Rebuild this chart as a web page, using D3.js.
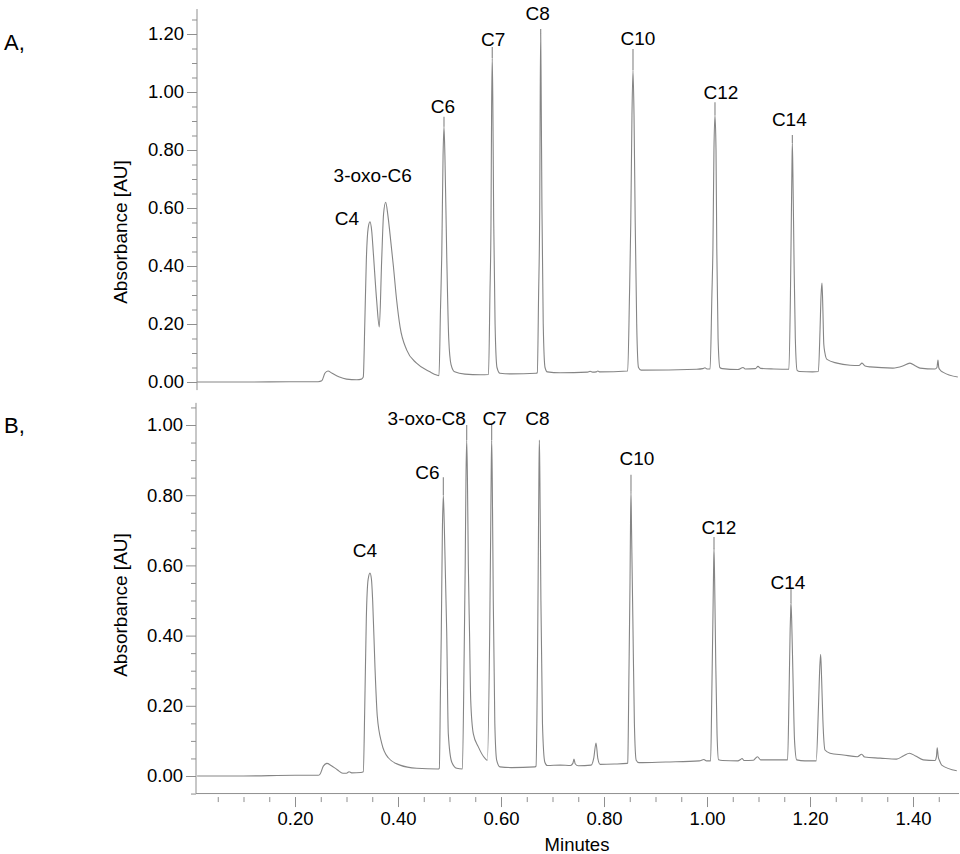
<!DOCTYPE html>
<html><head><meta charset="utf-8">
<script src="https://cdn.jsdelivr.net/npm/d3@7"></script>
<style>
body{margin:0;background:#fff}
svg{display:block}
text{font-family:"Liberation Sans", Arial, Helvetica, sans-serif; fill:#000}
</style>
</head><body>
<svg id="c" width="960" height="854"></svg>
<script>
// ---------------- DATA ----------------
const panelLetters = ["A,", "B,"];
const yTickLabelsA = [0.00, 0.20, 0.40, 0.60, 0.80, 1.00, 1.20];
const yTickLabelsB = [0.00, 0.20, 0.40, 0.60, 0.80, 1.00];
const xTickLabels = [0.20, 0.40, 0.60, 0.80, 1.00, 1.20, 1.40];

const peakNamesA = ["C4", "3-oxo-C6", "C6", "C7", "C8", "C10", "C12", "C14"];
const peakTimesA = [0.3456, 0.3761, 0.4893, 0.5830, 0.6771, 0.8563, 1.0155, 1.1657];
const peakHeightsA = [0.552, 0.620, 0.880, 1.117, 1.200, 1.076, 0.920, 0.824];

const peakNamesB = ["C4", "C6", "3-oxo-C8", "C7", "C8", "C10", "C12", "C14"];
const peakTimesB = [0.3456, 0.4880, 0.5334, 0.5819, 0.6745, 0.8524, 1.0136, 1.1631];
const peakHeightsB = [0.578, 0.800, 0.957, 0.957, 0.957, 0.810, 0.647, 0.493];

// chromatogram A: [minutes, absorbance AU]
const traceA = [
[0.010,0.000],[0.100,0.000],[0.200,0.001],[0.245,0.001],
[0.252,0.004],[0.258,0.030],[0.264,0.038],[0.272,0.030],[0.285,0.018],[0.300,0.010],[0.320,0.008],[0.329,0.010],
[0.3326,0.017],[0.3355,0.200],[0.3385,0.420],[0.3420,0.530],[0.3456,0.552],[0.3490,0.520],[0.3521,0.445],[0.3586,0.280],[0.3637,0.190],[0.3683,0.420],[0.3720,0.580],[0.3761,0.620],[0.3800,0.580],[0.3845,0.510],[0.3910,0.400],[0.3975,0.280],[0.4040,0.190],[0.4170,0.110],[0.4360,0.065],[0.4620,0.035],[0.4750,0.024],
[0.4796,0.022],[0.4825,0.250],[0.4850,0.440],[0.4875,0.780],[0.4893,0.880],[0.4911,0.780],[0.4946,0.440],[0.4985,0.150],[0.5030,0.060],[0.5100,0.035],[0.5300,0.027],[0.5600,0.025],
[0.5757,0.026],[0.5785,0.300],[0.5806,0.560],[0.5818,0.950],[0.5830,1.117],[0.5842,0.950],[0.5858,0.560],[0.5885,0.200],[0.5922,0.050],[0.5980,0.030],[0.6200,0.028],[0.6680,0.030],
[0.6705,0.032],[0.6730,0.300],[0.6752,0.600],[0.6762,1.000],[0.6771,1.200],[0.6780,1.000],[0.6795,0.600],[0.6820,0.200],[0.6855,0.050],[0.6900,0.035],
[0.7150,0.032],[0.7680,0.034],[0.7730,0.037],[0.7780,0.034],[0.7850,0.035],[0.7880,0.038],[0.7920,0.035],[0.8460,0.038],
[0.8495,0.300],[0.8520,0.550],[0.8543,0.920],[0.8563,1.076],[0.8583,0.920],[0.8606,0.550],[0.8635,0.200],[0.8670,0.050],[0.8720,0.041],
[0.9800,0.044],[0.9920,0.046],[0.9960,0.049],[1.0000,0.045],[1.0060,0.045],
[1.0095,0.300],[1.0115,0.460],[1.0135,0.800],[1.0155,0.920],[1.0175,0.800],[1.0190,0.460],[1.0215,0.150],[1.0250,0.050],[1.0300,0.046],
[1.0600,0.043],[1.0670,0.048],[1.0700,0.050],[1.0740,0.045],[1.0940,0.046],[1.0990,0.054],[1.1040,0.047],[1.1300,0.045],
[1.1590,0.044],[1.1620,0.300],[1.1640,0.600],[1.1650,0.750],[1.1657,0.824],[1.1668,0.720],[1.1690,0.420],[1.1715,0.150],[1.1750,0.040],[1.1800,0.036],[1.2050,0.035],
[1.2162,0.036],[1.2195,0.180],[1.2215,0.300],[1.2233,0.341],[1.2250,0.250],[1.2268,0.130],[1.2290,0.100],[1.2330,0.078],[1.2525,0.065],[1.2780,0.058],[1.2950,0.057],[1.3010,0.065],[1.3070,0.055],[1.3170,0.052],[1.3610,0.048],[1.3800,0.055],[1.3940,0.065],[1.4050,0.055],[1.4136,0.048],[1.4427,0.045],[1.4465,0.050],[1.4485,0.076],[1.4500,0.050],[1.4524,0.042],[1.4580,0.034],[1.4870,0.017]
];

// chromatogram B: [minutes, absorbance AU]
const traceB = [
[0.010,0.000],[0.100,0.000],[0.200,0.002],[0.245,0.002],
[0.2485,0.005],[0.255,0.028],[0.262,0.036],[0.270,0.030],[0.282,0.018],[0.293,0.008],[0.300,0.008],[0.305,0.012],[0.310,0.009],[0.328,0.010],
[0.3326,0.012],[0.3355,0.200],[0.3385,0.450],[0.3420,0.560],[0.3456,0.578],[0.3485,0.560],[0.3508,0.500],[0.3553,0.310],[0.3598,0.170],[0.3683,0.094],[0.3812,0.052],[0.4039,0.031],[0.4363,0.022],[0.4777,0.020],
[0.4802,0.022],[0.4825,0.250],[0.4840,0.400],[0.4862,0.700],[0.4880,0.800],[0.4898,0.720],[0.4946,0.410],[0.4977,0.120],[0.5043,0.040],[0.5140,0.022],[0.5250,0.020],
[0.5285,0.350],[0.5305,0.600],[0.5320,0.850],[0.5334,0.957],[0.5348,0.850],[0.5366,0.600],[0.5390,0.400],[0.5412,0.216],[0.5463,0.120],[0.5560,0.083],[0.5690,0.050],[0.5735,0.045],
[0.5780,0.400],[0.5800,0.700],[0.5810,0.870],[0.5819,0.957],[0.5830,0.850],[0.5850,0.500],[0.5880,0.150],[0.5916,0.045],[0.5980,0.026],[0.6200,0.024],[0.6660,0.026],
[0.6680,0.028],[0.6710,0.350],[0.6728,0.700],[0.6737,0.870],[0.6745,0.957],[0.6755,0.850],[0.6775,0.500],[0.6805,0.150],[0.6850,0.040],[0.6900,0.030],
[0.7150,0.031],[0.7350,0.030],[0.7395,0.036],[0.7417,0.048],[0.7440,0.035],[0.7500,0.029],[0.7750,0.031],[0.7800,0.050],[0.7845,0.094],[0.7880,0.050],[0.7925,0.033],[0.8200,0.034],[0.8450,0.036],
[0.8460,0.037],[0.8485,0.300],[0.8505,0.550],[0.8515,0.720],[0.8524,0.810],[0.8535,0.700],[0.8560,0.450],[0.8590,0.150],[0.8625,0.045],[0.8680,0.038],[0.9200,0.040],[0.9850,0.043],
[0.9940,0.047],[0.9990,0.043],[1.0070,0.043],[1.0095,0.250],[1.0115,0.450],[1.0127,0.580],[1.0136,0.647],[1.0148,0.560],[1.0170,0.320],[1.0195,0.120],[1.0225,0.046],[1.0300,0.044],
[1.0600,0.043],[1.0650,0.047],[1.0680,0.050],[1.0720,0.044],[1.0900,0.045],[1.0980,0.055],[1.1040,0.046],[1.1300,0.046],
[1.1565,0.046],[1.1595,0.250],[1.1615,0.420],[1.1625,0.470],[1.1631,0.493],[1.1645,0.440],[1.1670,0.280],[1.1700,0.100],[1.1742,0.046],[1.1900,0.043],[1.2120,0.043],
[1.2165,0.200],[1.2190,0.310],[1.2207,0.347],[1.2225,0.280],[1.2250,0.160],[1.2291,0.074],[1.2388,0.065],[1.2647,0.060],[1.2920,0.055],[1.3003,0.062],[1.3060,0.054],[1.3360,0.051],[1.3680,0.048],[1.3820,0.058],[1.3930,0.065],[1.4050,0.057],[1.4200,0.046],[1.4427,0.044],[1.4455,0.055],[1.4470,0.080],[1.4490,0.055],[1.4520,0.042],[1.4557,0.031],[1.4850,0.015]
];

// ---------------- LAYOUT ----------------
// label placement relative to apex (px): [dx, dy to label centre, leader length]
const labelLayoutA = [[-23,-4,0],[-13,-27,0],[-1,-20,10],[1,-19,11],[-3,-21,5],[5,-32,21],[6,-23,13],[-3,-24,8]];
const labelLayoutB = [[-5,-23,0],[-16,-23,18],[-40,-22,15],[3,-22,15],[-2,-22,0],[6,-33,17],[5,-22,12],[-3,-21,15]];

const grey = "#8f8f8f", traceCol = "#858585";
const FONT = '"Liberation Sans", Arial, sans-serif';
const svg = d3.select("#c");

const x = d3.scaleLinear().domain([0, 1.49]).range([192, 959.35]);
const yA = d3.scaleLinear().domain([0, 1.2]).range([382, 34]);
const yB = d3.scaleLinear().domain([0, 1.0]).range([776, 425]);

function styleAxis(a) {
  a.select(".domain").remove();
  a.selectAll("line").attr("stroke", grey);
  a.selectAll("text").style("font-size", "18.5px").style("font-family", FONT).attr("fill", "#000");
}

function drawYAxis(y, axisX, majors, lo, hi) {
  const g = svg.append("g");
  g.append("line").attr("x1", axisX).attr("x2", axisX)
    .attr("y1", y(lo)).attr("y2", y(hi)).attr("stroke", grey).attr("stroke-width", 1);
  const minors = d3.range(Math.ceil(lo / 0.05), Math.floor(hi / 0.05) + 1)
    .map(i => +(i * 0.05).toFixed(2)).filter(v => Math.abs(v / 0.2 - Math.round(v / 0.2)) > 1e-6);
  styleAxis(g.append("g").attr("transform", `translate(${axisX},0)`)
    .call(d3.axisLeft(y).tickValues(minors).tickSize(5).tickFormat("")));
  styleAxis(g.append("g").attr("transform", `translate(${axisX},0)`)
    .call(d3.axisLeft(y).tickValues(majors).tickSize(10).tickPadding(3).tickFormat(d3.format(".2f"))));
}

function drawTrace(data, y) {
  const line = d3.line().x(d => x(d[0])).y(d => y(d[1])).curve(d3.curveMonotoneX);
  svg.append("path").datum(data).attr("d", line)
    .attr("fill", "none").attr("stroke", traceCol).attr("stroke-width", 1.1).attr("stroke-linejoin", "round");
}

function drawLabels(names, times, heights, layout, y) {
  names.forEach((n, i) => {
    const px = x(times[i]), py = y(heights[i]);
    const [dx, dy, lead] = layout[i];
    if (lead > 0) {
      svg.append("line").attr("x1", px).attr("x2", px).attr("y1", py).attr("y2", py - lead)
        .attr("stroke", traceCol).attr("stroke-width", 1.1);
    }
    svg.append("text").attr("x", px + dx).attr("y", py + dy).attr("dy", "0.35em")
      .attr("text-anchor", "middle").style("font-size", "19px").text(n);
  });
}

// Panel A
drawYAxis(yA, 197, yTickLabelsA, -0.028, 1.286);
drawTrace(traceA, yA);
drawLabels(peakNamesA, peakTimesA, peakHeightsA, labelLayoutA, yA);

// Panel B
drawYAxis(yB, 196, yTickLabelsB, -0.05, 1.063);
drawTrace(traceB, yB);
drawLabels(peakNamesB, peakTimesB, peakHeightsB, labelLayoutB, yB);

// X axis (bottom of panel B)
const axisY = yB(-0.05);
svg.append("line").attr("x1", 196).attr("x2", 959).attr("y1", axisY).attr("y2", axisY).attr("stroke", grey);
const xMinors = d3.range(1, 30).map(i => +(i * 0.05).toFixed(2)).filter(v => Math.abs(v / 0.2 - Math.round(v / 0.2)) > 1e-6);
styleAxis(svg.append("g").attr("transform", `translate(0,${axisY + 3.5})`)
  .call(d3.axisBottom(x).tickValues(xMinors).tickSize(5).tickFormat("")));
styleAxis(svg.append("g").attr("transform", `translate(0,${axisY + 3.5})`)
  .call(d3.axisBottom(x).tickValues(xTickLabels).tickSize(10).tickPadding(5).tickFormat(d3.format(".2f"))));

// Titles
svg.append("text").attr("x", 577).attr("y", 845).attr("dy", "0.35em").attr("text-anchor", "middle")
  .style("font-size", "18.5px").text("Minutes");
[232, 605].forEach(cy => {
  svg.append("text").attr("transform", `translate(120,${cy}) rotate(-90)`).attr("dy", "0.35em")
    .attr("text-anchor", "middle").style("font-size", "19px").text("Absorbance [AU]");
});
svg.append("text").attr("x", 4).attr("y", 42).attr("dy", "0.35em").style("font-size", "22px").text(panelLetters[0]);
svg.append("text").attr("x", 4).attr("y", 425).attr("dy", "0.35em").style("font-size", "22px").text(panelLetters[1]);
</script>
</body></html>
